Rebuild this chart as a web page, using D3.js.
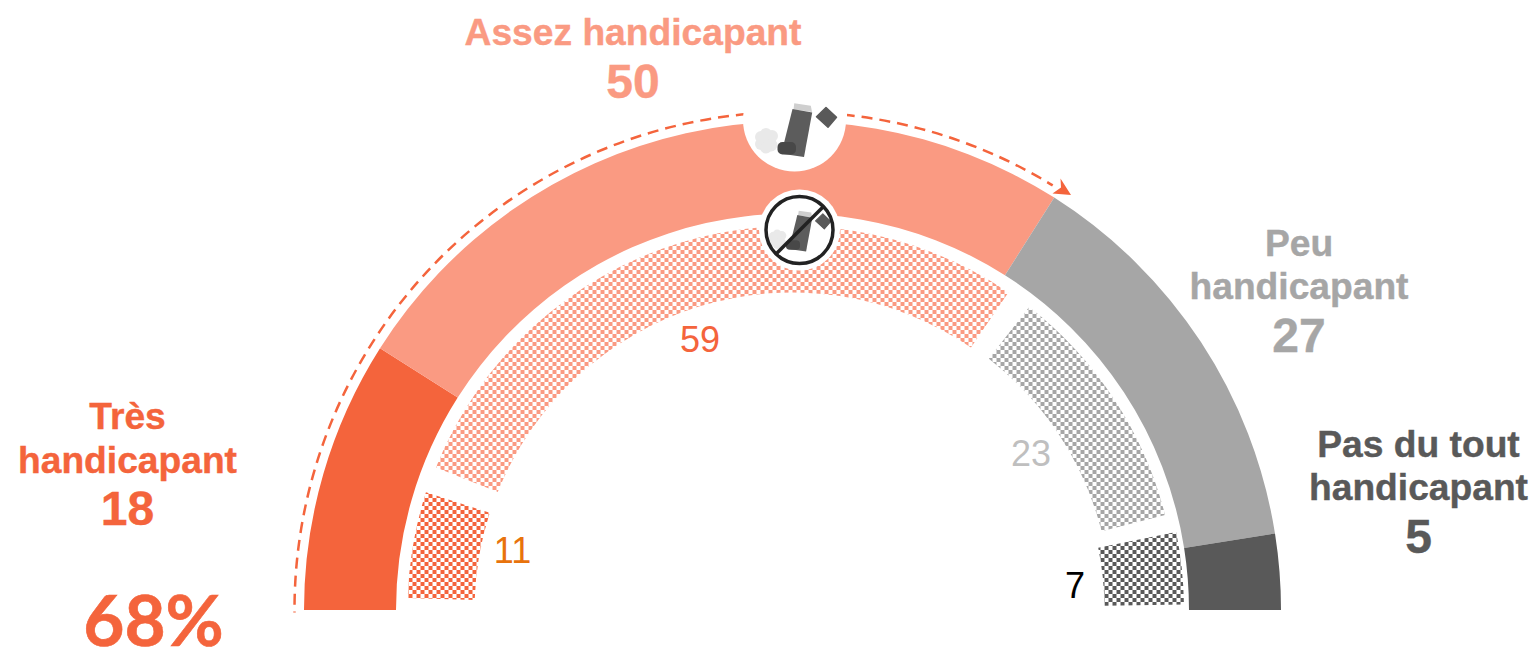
<!DOCTYPE html>
<html><head><meta charset="utf-8">
<script src="https://cdn.jsdelivr.net/npm/d3@7"></script>
<style>html,body{margin:0;padding:0;background:#fff;overflow:hidden}svg{display:block}text{font-family:"Liberation Sans",Arial,sans-serif;text-anchor:middle}</style>
</head><body><svg id="c" width="1533" height="649"></svg>
<script>
// Data
const categories = ["Très handicapant","Assez handicapant","Peu handicapant","Pas du tout handicapant"];
const outerValues = [18,50,27,5];
const innerValues = [11,59,23,7];
const colors = ["#F4643C","#FA9A82","#A6A6A6","#595959"];
const labelLines = [["Très","handicapant"],["Assez handicapant"],["Peu","handicapant"],["Pas du tout","handicapant"]];
const innerLabelColors = ["#E8730C","#F4643C","#BFBFBF","#000000"];
const totalLabel = "68%";
const arrowValue = 68;

// Layout
const W=1533,H=649,cx=792.5,cy=610;
const svg=d3.select("#c");
const angle=d3.scaleLinear().domain([0,100]).range([-Math.PI/2,Math.PI/2]);
const deg=Math.PI/180;
const g=svg.append("g").attr("transform",`translate(${cx},${cy})`);
const defs=svg.append("defs");
colors.forEach((c,i)=>{
  const p=defs.append("pattern").attr("id","chk"+i).attr("patternUnits","userSpaceOnUse").attr("width",8).attr("height",8);
  p.append("rect").attr("width",8).attr("height",8).attr("fill","#fff");
  p.append("rect").attr("width",4).attr("height",4).attr("fill",c);
  p.append("rect").attr("x",4).attr("y",4).attr("width",4).attr("height",4).attr("fill",c);
});
const cum=a=>{let s=0;return a.map(v=>{const r=[s,s+v];s+=v;return r;});};
const arc=d3.arc();
// outer band
g.selectAll("path.o").data(cum(outerValues)).join("path").attr("class","o")
 .attr("d",d=>arc({innerRadius:396.5,outerRadius:488.5,startAngle:angle(d[0]),endAngle:angle(d[1])}))
 .attr("fill",(d,i)=>colors[i]);
// inner checker band
const padStart=[1.8,2,2,1.1],padEnd=[2,1.8,1.7,.8];
const rIn=[318,317.5,319,312],rOut=[385,384,384.5,391.5];
g.selectAll("path.i").data(cum(innerValues)).join("path").attr("class","i")
 .attr("d",(d,i)=>arc({innerRadius:rIn[i],outerRadius:rOut[i],startAngle:angle(d[0])+padStart[i]*deg,endAngle:angle(d[1])-padEnd[i]*deg}))
 .attr("fill",(d,i)=>`url(#chk${i})`);
// dashed arrow arc
const R=498;
const dp=d3.path();
const a0=angle(0)-Math.PI/2-0.3*deg, a1=angle(arrowValue)-Math.PI/2-0.9*deg;
dp.arc(0,0,R,a0,a1);
g.append("path").attr("d",dp.toString()).attr("fill","none").attr("stroke",colors[0]).attr("stroke-width",2.5).attr("stroke-dasharray","11 7").attr("stroke-dashoffset",-8);
svg.append("path").attr("d","M1071,195L1060.5,178.5L1061,187.5L1052.5,193.5Z").attr("fill",colors[0]);

// Icon
function inhaler(sel){
  [[-30,11.7,8.5],[-35,8,6],[-24,7,6],[-35,15,6],[-25,16,6.5],[-30,5,6],[-30,18.5,6]].forEach(c=>sel.append("circle").attr("cx",c[0]).attr("cy",c[1]).attr("r",c[2]).attr("fill","#E9E9E9"));
  sel.append("path").attr("d","M-1.7,-25.7L14.8,-23.3L16,-17L-2.5,-19.7Z").attr("fill","#CFCFCF");
  sel.append("path").attr("d","M-3.5,-20L16.2,-16.5L8,28L-12.5,25L-12,14Z").attr("fill","#5C5C5C");
  sel.append("rect").attr("x",-18.5).attr("y",13).attr("width",18.5).attr("height",12.5).attr("rx",5).attr("fill","#484848");
  sel.append("path").attr("d","M30,-21.5L40.5,-11.7L32,-1.8L20.5,-12.3Z").attr("fill","#595959").attr("stroke","#595959").attr("stroke-width",1.5).attr("stroke-linejoin","round");
}
svg.append("circle").attr("cx",794.5).attr("cy",120).attr("r",51.5).attr("fill","#fff");
svg.append("rect").attr("x",746).attr("y",90).attr("width",101).attr("height",30).attr("fill","#fff");
inhaler(svg.append("g").attr("transform","translate(796,129)"));
svg.append("circle").attr("cx",799.5).attr("cy",230).attr("r",40.5).attr("fill","#fff");
inhaler(svg.append("g").attr("transform","translate(800,230.3) scale(.76)"));
svg.append("circle").attr("cx",799.5).attr("cy",230).attr("r",33.5).attr("fill","none").attr("stroke","#222").attr("stroke-width",3.5);
svg.append("line").attr("x1",775.5).attr("y1",254.5).attr("x2",823).attr("y2",207).attr("stroke","#222").attr("stroke-width",3.5);

// Labels
const labelX=[127.5,633,1299,1418.5];
const lineY=[[429,472.5],[45],[256,299],[457,500]];
const valueY=[525,98,352,553];
categories.forEach((c,i)=>{
  labelLines[i].forEach((t,j)=>svg.append("text").attr("x",labelX[i]).attr("y",lineY[i][j]).attr("font-size",37.2).attr("font-weight",700).attr("fill",colors[i]).attr("stroke",colors[i]).attr("stroke-width",.4).text(t));
  svg.append("text").attr("x",labelX[i]).attr("y",valueY[i]).attr("font-size",48).attr("font-weight",700).attr("fill",colors[i]).attr("stroke",colors[i]).attr("stroke-width",.4).text(outerValues[i]);
});
const innerX=[512.5,700,1031,1075],innerY=[563,352,466,598];
innerValues.forEach((v,i)=>svg.append("text").attr("x",innerX[i]).attr("y",innerY[i]).attr("font-size",36).attr("fill",innerLabelColors[i]).text(v));
svg.append("text").attr("x",153.5).attr("y",646).attr("font-size",71).attr("font-weight",700).attr("fill",colors[0]).attr("stroke",colors[0]).attr("stroke-width",.6).style("font-family","Lato").text(totalLabel);
</script></body></html>
